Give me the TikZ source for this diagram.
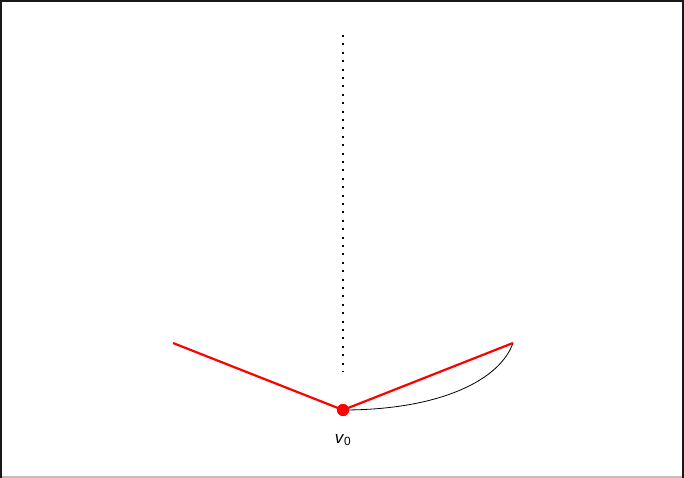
\documentclass[tikz,border=0pt]{standalone}
\usepackage{fontspec}
\setmainfont{Liberation Sans}
\begin{document}
\begin{tikzpicture}[x=1pt,y=-1pt,
  redline/.style={red,line width=2.2pt},
  dotline/.style={line width=2.2pt,dash pattern=on 2pt off 6.4pt},
  lbl/.style={font=\fontsize{17}{19}\selectfont,inner sep=0pt}]
\useasboundingbox (0,0) rectangle (684,478);
\draw[line width=2.5pt,black!90] (683,477) -- (1,477) -- (1,1) -- (683,1) -- cycle;
\draw[line width=1.5pt,black!25] (2,477) -- (682,477);
\coordinate (top) at (343,35);
\coordinate (bot) at (343,372);
\coordinate (L) at (173,343);
\coordinate (R) at (513,343);
\node[circle,fill=red,inner sep=0pt,minimum size=12pt] (v0) at (343,410) {};
\node[lbl] (lab) at (343,440) {\textit{v}\textsubscript{0}};
\draw[dotline] (top) -- (bot);
\draw[black,line width=0.8pt] (v0.center) .. controls (440,410) and (500,380) .. (R);
\draw[redline] (L) -- (v0.center) -- (R);
\fill[red] (v0) circle (6pt);
\end{tikzpicture}
\end{document}
